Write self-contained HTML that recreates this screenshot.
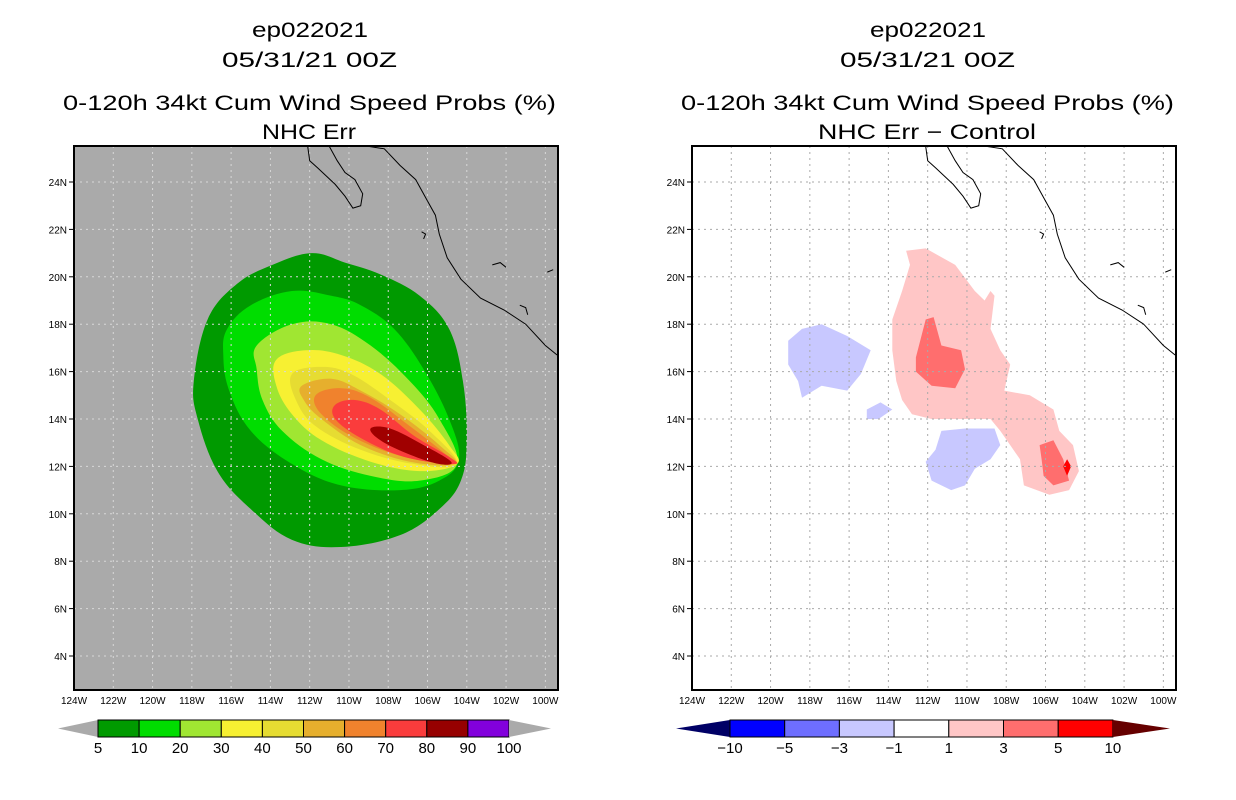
<!DOCTYPE html>
<html><head><meta charset="utf-8">
<style>
body{margin:0;background:#fff;}
svg{display:block;font-family:"Liberation Sans","DejaVu Sans",sans-serif;}
.t{font-size:21px;fill:#000;}
.ax{font-size:10px;fill:#000;}
.cb{font-size:15px;text-anchor:middle;fill:#000;}
</style></head>
<body>
<svg id="fig" width="1236" height="800" viewBox="0 0 1236 800">
<g id="left"></g>
<g id="right"></g>
</svg>
<script>
// ---- data ----
const lonTicks=[-124,-122,-120,-118,-116,-114,-112,-110,-108,-106,-104,-102,-100];
const latTicks=[4,6,8,10,12,14,16,18,20,22,24];
const probLevels=[5,10,20,30,40,50,60,70,80];
const probColors=['#009a00','#00dd00','#a0e632','#f7f032','#e6dc32','#e6af2d','#f0822d','#fa3c3c','#a00000'];
const prob5=[[-117.2,18.2],[-115.7,19.7],[-113.9,20.5],[-111.9,21.0],[-110.2,20.6],[-108.4,20.1],[-106.4,19.2],[-104.9,17.8],[-104.2,15.6],[-104.0,13.1],[-104.3,11.4],[-105.4,10.2],[-107.4,9.1],[-110.4,8.6],[-112.9,8.9],[-115.0,10.2],[-116.7,11.8],[-117.7,14.0],[-117.9,15.6]];
const prob10=[[-116.2,17.8],[-115.0,18.8],[-112.9,19.4],[-110.9,19.2],[-109.4,18.8],[-107.7,17.8],[-106.2,16.1],[-104.9,14.0],[-104.4,12.3],[-105.4,11.4],[-107.4,11.0],[-110.4,11.2],[-112.9,12.1],[-115.0,13.5],[-116.1,15.2],[-116.4,16.7]];
const prob20=[[-114.7,17.1],[-112.9,18.0],[-110.9,18.0],[-108.9,17.1],[-106.9,15.6],[-105.4,14.0],[-104.5,12.1],[-106.4,11.4],[-108.9,11.6],[-111.4,12.3],[-113.4,13.5],[-114.4,14.8],[-114.7,16.1]];
const prob30=[[-113.7,16.5],[-112.2,16.9],[-110.4,16.7],[-108.4,15.9],[-106.4,14.4],[-104.9,12.9],[-104.5,12.1],[-106.4,11.8],[-108.9,12.2],[-111.4,13.1],[-112.9,14.2],[-113.7,15.4]];
const prob40=[[-112.9,15.9],[-111.4,16.2],[-109.9,15.9],[-107.9,14.8],[-105.9,13.5],[-104.5,12.1],[-106.7,12.1],[-109.4,12.7],[-111.7,13.7],[-112.7,14.8]];
const prob50=[[-112.4,15.4],[-110.9,15.7],[-109.4,15.2],[-107.4,14.2],[-105.4,12.9],[-104.6,12.1],[-106.9,12.2],[-109.4,12.9],[-111.4,14.0],[-112.3,14.8]];
const prob60=[[-111.7,15.0],[-110.4,15.3],[-108.9,14.9],[-106.9,13.7],[-105.2,12.6],[-104.6,12.1],[-107.2,12.4],[-109.7,13.2],[-111.4,14.2]];
const prob70=[[-110.7,14.6],[-109.7,14.8],[-108.4,14.4],[-106.7,13.3],[-104.9,12.4],[-104.7,12.1],[-107.2,12.4],[-109.4,13.2],[-110.7,14.0]];
const prob80=[[-108.9,13.6],[-107.9,13.6],[-106.2,12.9],[-104.8,12.2],[-105.4,12.1],[-106.9,12.5],[-108.4,13.1]];
const probPolys=[prob5,prob10,prob20,prob30,prob40,prob50,prob60,prob70,prob80];

const diffPos1=[[-113.1,21.1],[-112.1,21.2],[-110.6,20.5],[-109.6,19.4],[-109.1,19.0],[-108.8,19.4],[-108.6,19.2],[-108.8,17.8],[-108.3,16.9],[-107.8,16.3],[-108.1,15.2],[-106.8,15.0],[-105.6,14.4],[-105.3,13.5],[-104.6,12.9],[-104.3,11.8],[-104.8,11.0],[-105.8,10.8],[-107.1,11.2],[-107.3,12.3],[-107.8,12.9],[-108.3,13.5],[-108.8,14.0],[-110.3,14.0],[-111.8,14.0],[-112.8,14.2],[-113.3,14.8],[-113.6,15.6],[-113.8,16.9],[-113.8,18.2],[-113.3,19.4],[-112.9,20.5]];
const diffPos3a=[[-112.1,18.2],[-111.7,18.3],[-111.3,17.1],[-110.3,16.9],[-110.1,16.1],[-110.6,15.3],[-111.8,15.4],[-112.6,16.0],[-112.6,16.6]];
const diffPos3b=[[-106.3,12.9],[-105.6,13.1],[-105.1,12.3],[-104.8,11.4],[-105.6,11.2],[-106.1,11.6],[-106.2,12.3]];
const diffPos5=[[-104.9,12.3],[-104.7,12.0],[-104.9,11.6],[-105.1,12.0]];
const diffNegA=[[-119.1,17.3],[-118.4,17.8],[-117.4,18.0],[-116.1,17.5],[-114.9,16.9],[-115.4,15.9],[-116.1,15.2],[-117.4,15.4],[-118.4,14.9],[-118.6,15.6],[-119.1,16.3]];
const diffNegB=[[-115.1,14.4],[-114.4,14.7],[-113.8,14.4],[-114.5,14.0],[-115.1,14.0]];
const diffNegC=[[-111.3,13.5],[-110.1,13.6],[-108.6,13.6],[-108.3,12.9],[-108.8,12.3],[-109.6,11.9],[-110.1,11.2],[-110.8,11.0],[-111.8,11.4],[-112.1,12.2],[-111.6,12.7]];
const diffPolys=[diffPos1,diffPos3a,diffPos3b,diffPos5,diffNegA,diffNegB,diffNegC];
const diffColors=['#ffc6c6','#ff6e6e','#ff6e6e','#ff0000','#c8c8ff','#c8c8ff','#c8c8ff'];

const bajaCoast=[[-112.1,25.5],[-112.0,24.9],[-111.6,24.6],[-110.7,23.9],[-110.2,23.4],[-109.8,22.9],[-109.4,23.0],[-109.3,23.5],[-109.7,24.1],[-110.2,24.4],[-110.6,24.9],[-111.0,25.5]];
const mainCoast=[[-109.0,25.5],[-108.2,25.4],[-107.4,24.7],[-106.6,24.1],[-106.0,23.2],[-105.6,22.6],[-105.4,21.8],[-105.0,20.8],[-104.3,19.9],[-103.3,19.1],[-102.1,18.6],[-101.0,18.0],[-100.0,17.1],[-99.4,16.7]];
const islandA=[[-106.3,21.9],[-106.1,21.8],[-106.2,21.6]];
const islandB=[[-102.7,20.5],[-102.3,20.6],[-102.0,20.4]];
const islandC=[[-101.3,18.8],[-101.0,18.7],[-100.9,18.4]];
const islandD=[[-99.9,20.2],[-99.6,20.3]];

const probBarLabels=['5','10','20','30','40','50','60','70','80','90','100'];
const probBarColors=['#009a00','#00dd00','#a0e632','#f7f032','#e6dc32','#e6af2d','#f0822d','#fa3c3c','#960000','#8200dc'];
const diffBarLabels=['\u221210','\u22125','\u22123','\u22121','1','3','5','10'];
const diffBarColors=['#0000ff','#6e6eff','#c8c8ff','#ffffff','#ffc6c6','#ff6e6e','#ff0000'];

// ---- drawing ----
const NS='http://www.w3.org/2000/svg';
function mk(tag,attrs,parent){const e=document.createElementNS(NS,tag);for(const k in attrs)e.setAttribute(k,attrs[k]);parent.appendChild(e);return e;}
const X0=74,PXD=19.64,Y24=182,PYD=23.7;
function xs(off){return lon=>off+X0+(lon+124)*PXD;}
function ys(lat){return Y24-(lat-24)*PYD;}
function pts(poly,x){return poly.map(p=>x(p[0]).toFixed(1)+','+ys(p[1]).toFixed(1)).join(' ');}
function smooth(poly,x){
  const P=poly.map(p=>[x(p[0]),ys(p[1])]);const n=P.length;let d='M'+P[0][0].toFixed(1)+','+P[0][1].toFixed(1);
  const k=0.18;
  for(let i=0;i<n;i++){const p0=P[(i-1+n)%n],p1=P[i],p2=P[(i+1)%n],p3=P[(i+2)%n];
    const c1=[p1[0]+(p2[0]-p0[0])*k,p1[1]+(p2[1]-p0[1])*k],c2=[p2[0]-(p3[0]-p1[0])*k,p2[1]-(p3[1]-p1[1])*k];
    d+=` C${c1[0].toFixed(1)},${c1[1].toFixed(1)} ${c2[0].toFixed(1)},${c2[1].toFixed(1)} ${p2[0].toFixed(1)},${p2[1].toFixed(1)}`;}
  return d+'Z';
}

function panel(g,off,gray,sub,subW){
  const x=xs(off);const L=off+74,R=off+558,T=146,B=690;
  const titles=['ep022021','05/31/21 00Z','0-120h 34kt Cum Wind Speed Probs (%)',sub];
  const tx=[252,222,63,subW[0]],tw=[116,175,493,subW[1]];
  const ty=[37,67,110,139];
  titles.forEach((s,i)=>{const t=mk('text',{class:'t',x:off+tx[i],y:ty[i],textLength:tw[i],lengthAdjust:'spacingAndGlyphs'},g);t.textContent=s;
    
    });
  const cp='clip'+off;
  const d=mk('clipPath',{id:cp},g);mk('rect',{x:L,y:T,width:R-L,height:B-T},d);
  const bg=mk('rect',{x:L,y:T,width:R-L,height:B-T,fill:gray?'#aaaaaa':'#ffffff'},g);
  
  
  const m=mk('g',{'clip-path':'url(#'+cp+')'},g);
  
  
  return {x,m,L,R,T,B};
}
function grid(P,col){
  lonTicks.forEach(v=>{const l=mk('line',{x1:P.x(v),x2:P.x(v),y1:P.T,y2:P.B,stroke:col,'stroke-dasharray':'2,4','stroke-width':1},P.m);
    
    });
  latTicks.forEach(v=>{const l=mk('line',{x1:P.L,x2:P.R,y1:ys(v),y2:ys(v),stroke:col,'stroke-dasharray':'2,4','stroke-width':1},P.m);
    
    });
}
function coast(P){
  [bajaCoast,mainCoast,islandA,islandB,islandC,islandD].forEach(c=>{const l=mk('polyline',{points:pts(c,P.x),fill:'none',stroke:'#000','stroke-width':1},P.m);
    
    });
}
function axes(g,P){
  const f=mk('rect',{x:P.L,y:P.T,width:P.R-P.L,height:P.B-P.T,fill:'none',stroke:'#000','stroke-width':2},g);
  
  
  lonTicks.forEach(v=>{const t=mk('text',{class:'ax',x:P.x(v),y:704,'text-anchor':'middle'},g);t.textContent=(-v)+'W';
    
    });
  latTicks.forEach(v=>{const t=mk('text',{class:'ax',x:P.L-7,y:ys(v)+4,'text-anchor':'end'},g);t.textContent=v+'N';
    
    
    mk('line',{x1:P.L-5,x2:P.L,y1:ys(v),y2:ys(v),stroke:'#000'},g);});
}
function colorbar(g,x0,w,cols,labels,lc,rc,lx,rx){
  const y1=720,y2=737,ym=728.5;
  const lt=mk('polygon',{points:`${lx},${ym} ${x0},${y1} ${x0},${y2}`,fill:lc},g);
  
  
  cols.forEach((c,i)=>{const r=mk('rect',{x:x0+i*w,y:y1,width:w,height:y2-y1,fill:c,stroke:'#000','stroke-width':1},g);
    
    });
  const xe=x0+cols.length*w;
  const rt=mk('polygon',{points:`${xe},${y1} ${rx},${ym} ${xe},${y2}`,fill:rc},g);
  
  
  labels.forEach((s,i)=>{const t=mk('text',{class:'cb',x:x0+i*w,y:753},g);t.textContent=s;
    
    });
}

// left
const gl=document.getElementById('left');
const PL=panel(gl,0,true,'NHC Err',[262,94]);
probPolys.forEach((p,i)=>{const s=mk('path',{d:smooth(p,PL.x),fill:probColors[i]},PL.m);
  
  });
grid(PL,'#d8d8d8');coast(PL);axes(gl,PL);
colorbar(gl,98,41.1,probBarColors,probBarLabels,'#aaaaaa','#aaaaaa',58,551);

// right
const gr=document.getElementById('right');
const PR=panel(gr,618,false,'NHC Err \u2212 Control',[200,218]);
diffPolys.forEach((p,i)=>{const s=mk('polygon',{points:pts(p,PR.x),fill:diffColors[i]},PR.m);
  
  });
grid(PR,'#aaaaaa');coast(PR);axes(gr,PR);
colorbar(gr,730,54.7,diffBarColors,diffBarLabels,'#000066','#660000',676,1170);
</script>
</body></html>
